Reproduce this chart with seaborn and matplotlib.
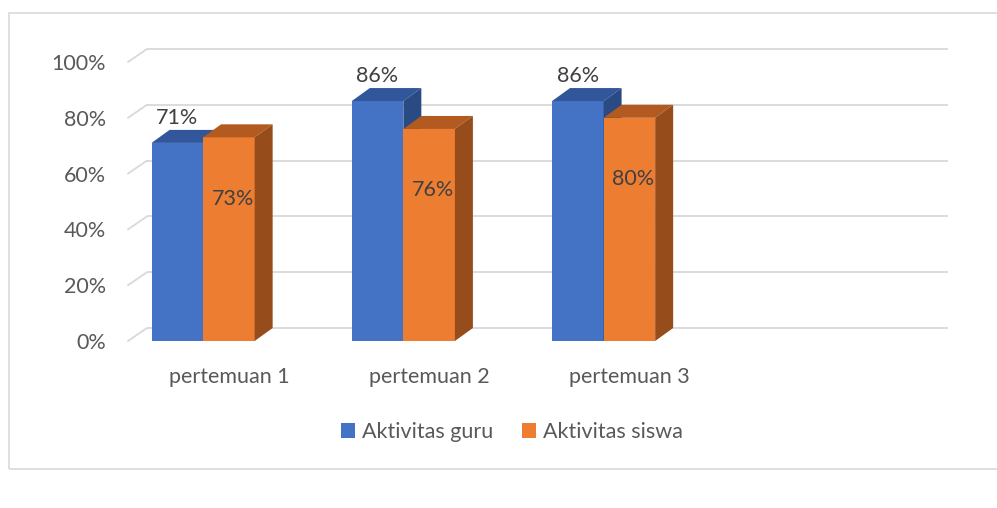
import matplotlib
matplotlib.use("Agg")
import matplotlib.pyplot as plt
import seaborn as sns
import pandas as pd
from matplotlib.patches import Polygon, Rectangle, Patch
from matplotlib.transforms import ScaledTranslation, IdentityTransform
from matplotlib.lines import Line2D

categories = ["pertemuan 1", "pertemuan 2", "pertemuan 3"]
series_names = ["Aktivitas guru", "Aktivitas siswa"]
guru = [71, 86, 86]
siswa = [73, 76, 80]
yticks = [0, 20, 40, 60, 80, 100]
ytick_labels = ["0%", "20%", "40%", "60%", "80%", "100%"]

front_colors = ["#4472C4", "#ED7D31"]
top_colors = ["#31569A", "#B35A21"]
side_colors = ["#2A4A83", "#974D1B"]
text_color = "#595959"
grid_color = "#D9D9D9"
FS = 15.5

df = pd.DataFrame({
    "pertemuan": categories * 2,
    "nilai": guru + siswa,
    "aktivitas": [series_names[0]] * 3 + [series_names[1]] * 3,
})

sns.set_theme(style="white")
plt.rcParams["font.family"] = ["Lato", "DejaVu Sans"]

W, H = 997, 508
fig = plt.figure(figsize=(W / 100, H / 100), dpi=100)
fig.patch.set_facecolor("white")

# axes placed in pixel terms (front plane)
ax_l, ax_r, ax_b, ax_t = 128, 929, 341, 62
ax = fig.add_axes([ax_l / W, (H - ax_b) / H, (ax_r - ax_l) / W, (ax_b - ax_t) / H])
ax.set_facecolor("none")

sns.barplot(data=df, x="pertemuan", y="nilai", hue="aktivitas", palette=front_colors,
            width=0.515, saturation=1, legend=False, ax=ax, linewidth=0, zorder=3)

ax.set_xlim(-0.375, 3.625)
ax.set_ylim(0, 100)
ax.set_yticks(yticks)
ax.set_yticklabels(ytick_labels)
ax.set_xlabel("")
ax.set_ylabel("")
for s in ax.spines.values():
    s.set_visible(False)
ax.tick_params(axis="both", length=0, colors=text_color, labelsize=FS)
ax.tick_params(axis="y", pad=16)
ax.tick_params(axis="x", pad=19)
for lab in ax.get_xticklabels():
    lab.set_transform(lab.get_transform() + ScaledTranslation(0.26, 0, fig.dpi_scale_trans))

# back wall gridlines with depth slant
gdx, gdy = 19, 13
off = ScaledTranslation(gdx / 100, gdy / 100, fig.dpi_scale_trans)
ytr = ax.get_yaxis_transform()
for v in yticks:
    ax.plot([0, 1], [v, v], transform=ytr + off, color=grid_color, lw=1.3,
            zorder=0.5, clip_on=False, solid_capstyle="butt")
    p0 = ytr.transform((0, v))
    fig.add_artist(Line2D([p0[0], p0[0] + gdx], [p0[1], p0[1] + gdy],
                          transform=IdentityTransform(), color=grid_color, lw=1.3, zorder=0.5))

# 3D faces for each bar
bdx, bdy = 18, 13
for i, cont in enumerate(ax.containers):
    z = 3 + i
    for p in cont.patches:
        p.set_zorder(z)
        x0 = p.get_x()
        x1 = x0 + p.get_width()
        h = p.get_height()
        (X0, Yh), (X1, Y0) = ax.transData.transform([(x0, h), (x1, 0)])
        top = Polygon([(X0, Yh), (X1, Yh), (X1 + bdx, Yh + bdy), (X0 + bdx, Yh + bdy)],
                      closed=True, transform=IdentityTransform(), facecolor=top_colors[i],
                      edgecolor="none", zorder=z, clip_on=False)
        side = Polygon([(X1, Y0), (X1, Yh), (X1 + bdx, Yh + bdy), (X1 + bdx, Y0 + bdy)],
                       closed=True, transform=IdentityTransform(), facecolor=side_colors[i],
                       edgecolor="none", zorder=z, clip_on=False)
        ax.add_patch(top)
        ax.add_patch(side)

# data labels
for i, cont in enumerate(ax.containers):
    for p in cont.patches:
        cx = p.get_x() + p.get_width() / 2
        h = p.get_height()
        if i == 0:
            ax.annotate(f"{h:.0f}%", xy=(cx, h), xytext=(0, 18), textcoords="offset points",
                        ha="center", va="center", color="#404040", fontsize=FS, zorder=10)
        else:
            ax.annotate(f"{h:.0f}%", xy=(cx, h - 22), xytext=(3, 0), textcoords="offset points",
                        ha="center", va="center", color="#404040", fontsize=FS, zorder=10)

# legend
handles = [Patch(facecolor=c, edgecolor="none") for c in front_colors]
fig.legend(handles, series_names, loc="center", bbox_to_anchor=(512 / W, (H - 432) / H),
           ncol=2, frameon=False, fontsize=FS, handlelength=0.65, handleheight=0.65,
           handletextpad=0.35, columnspacing=1.3, labelcolor=text_color)

# chart frame
fig.add_artist(Rectangle((9 / W, (H - 469) / H), 1.2, (469 - 13) / H, transform=fig.transFigure,
                         fill=False, edgecolor=grid_color, lw=1.2))

fig.savefig("out.png", dpi=100)
